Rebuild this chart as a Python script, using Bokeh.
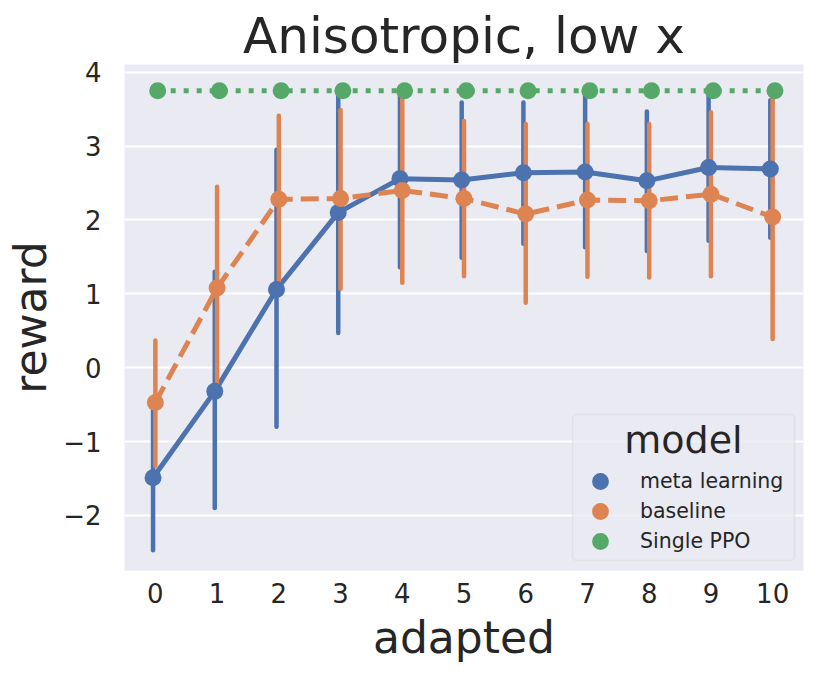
import numpy as np
from bokeh.plotting import figure
from bokeh.models import Range1d, FixedTicker, Legend, LegendItem, BoxAnnotation, Label
from bokeh.embed import file_html
from bokeh.resources import INLINE

# ---- data ----
adapted = list(range(11))
x_tick_labels = [str(v) for v in adapted]
y_ticks = [-2, -1, 0, 1, 2, 3, 4]
y_tick_labels = ["\u22122", "\u22121", "0", "1", "2", "3", "4"]

models = ["meta learning", "baseline", "Single PPO"]
legend_title = "model"

meta_mean = [-1.49, -0.32, 1.06, 2.10, 2.56, 2.54, 2.64, 2.65, 2.53, 2.71, 2.69]
meta_lo = [-2.47, -1.90, -0.80, 0.47, 1.36, 1.49, 1.68, 1.63, 1.58, 1.72, 1.76]
meta_hi = [-0.52, 1.30, 2.95, 3.78, 3.76, 3.59, 3.59, 3.77, 3.47, 3.76, 3.62]

base_mean = [-0.47, 1.08, 2.28, 2.29, 2.40, 2.29, 2.08, 2.27, 2.26, 2.35, 2.04]
base_lo = [-1.33, -0.26, 1.15, 1.07, 1.15, 1.24, 0.88, 1.23, 1.22, 1.24, 0.39]
base_hi = [0.37, 2.45, 3.41, 3.49, 3.66, 3.34, 3.30, 3.30, 3.30, 3.46, 3.67]

ppo_mean = [3.75] * 11

colors = ["#4C72B0", "#DD8452", "#55A868"]
dashes = ["solid", "18 8", "5 8"]
offsets = [-0.0375, 0.0, 0.0375]

FONT = "DejaVu Sans"
TXT = "#262626"

p = figure(width=814, height=665, output_backend="svg", toolbar_location=None,
           x_range=Range1d(-0.5, 10.5), y_range=Range1d(-2.745, 4.105),
           min_border_left=124, min_border_right=11, min_border_top=64,
           min_border_bottom=95)

p.background_fill_color = "#EAEAF2"
p.border_fill_color = "white"
p.outline_line_color = None

p.title.text = "Anisotropic, low x"
p.title.align = "center"
p.title.text_font = FONT
p.title.text_font_size = "50px"
p.title.text_font_style = "normal"
p.title.text_color = TXT
p.title.standoff = 0

p.xgrid.grid_line_color = None
p.ygrid.grid_line_color = "white"
p.ygrid.grid_line_width = 2

p.xaxis.ticker = FixedTicker(ticks=adapted)
p.xaxis.major_label_overrides = {v: s for v, s in zip(adapted, x_tick_labels)}
p.yaxis.ticker = FixedTicker(ticks=y_ticks)
p.yaxis.major_label_overrides = {v: s for v, s in zip(y_ticks, y_tick_labels)}
p.ygrid.ticker = FixedTicker(ticks=y_ticks)

for ax in (p.xaxis, p.yaxis):
    ax.axis_line_color = None
    ax.major_tick_line_color = None
    ax.minor_tick_line_color = None
    ax.major_tick_out = 0
    ax.major_tick_in = 0
    ax.major_label_text_font = FONT
    ax.major_label_text_font_size = "26px"
    ax.major_label_text_color = TXT
    ax.axis_label_text_font = FONT
    ax.axis_label_text_font_size = "44px"
    ax.axis_label_text_font_style = "normal"
    ax.axis_label_text_color = TXT

p.xaxis.axis_label = "adapted"
p.yaxis.axis_label = "reward"
p.xaxis.major_label_standoff = 12
p.yaxis.major_label_standoff = 23
p.xaxis.axis_label_standoff = 6
p.yaxis.axis_label_standoff = 4

x = np.array(adapted, dtype=float)
series = [(meta_mean, meta_lo, meta_hi), (base_mean, base_lo, base_hi), (ppo_mean, None, None)]

for (mean, lo, hi), c, d, off in zip(series, colors, dashes, offsets):
    xs = x + off
    p.line(xs, mean, line_color=c, line_width=5, line_dash=d)
    if lo is not None:
        p.segment(x0=xs, y0=lo, x1=xs, y1=hi, line_color=c, line_width=4.5,
                  line_cap="round")

scatters = []
for (mean, lo, hi), c, off in zip(series, colors, offsets):
    xs = x + off
    r = p.scatter(xs, mean, size=17, fill_color=c, line_color=c, line_width=0)
    scatters.append(r)

# legend frame (screen units relative to the plot frame)
box = BoxAnnotation(left=448, right=670, bottom=10, top=156,
                    left_units="screen", right_units="screen",
                    bottom_units="screen", top_units="screen",
                    fill_color="#EAEAF2", fill_alpha=0.8,
                    line_color="#CCCCCC", line_width=1.5, border_radius=4)
p.add_layout(box)

title_lbl = Label(x=559, y=131, x_units="screen", y_units="screen", text=legend_title,
                  text_align="center", text_baseline="alphabetic",
                  text_font=FONT, text_font_size="38px", text_color=TXT)
p.add_layout(title_lbl)

# one legend per entry, so the markers can be large while rows stay 30px apart
row_y = [68, 38, 8]
for m, r, yy in zip(models, scatters, row_y):
    lg = Legend(items=[LegendItem(label=m, renderers=[r])], location=(454, yy))
    lg.label_text_font = FONT
    lg.label_text_font_size = "20.5px"
    lg.label_text_color = TXT
    lg.background_fill_alpha = 0
    lg.border_line_color = None
    lg.glyph_width = 44
    lg.glyph_height = 42
    lg.spacing = 0
    lg.label_standoff = 18
    lg.padding = 0
    lg.margin = 0
    p.add_layout(lg)

open("out.html", "w").write(file_html(p, INLINE))
